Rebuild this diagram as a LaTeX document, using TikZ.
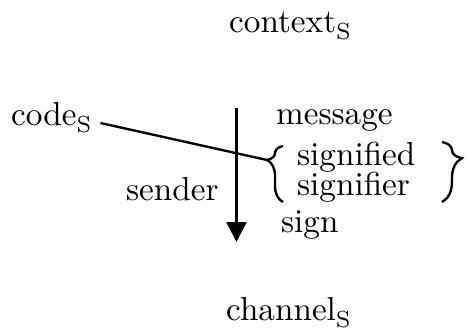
\documentclass[tikz,border=0pt]{standalone}
\usetikzlibrary{arrows.meta,decorations.pathreplacing}
\newcommand{\subS}{\raisebox{-2.4pt}{\fontsize{7}{8}\selectfont S}}
\begin{document}
\begin{tikzpicture}[x=0.3bp,y=0.3bp,line width=0.7pt,
  lbl/.style={inner sep=0pt,anchor=base west}]
  \useasboundingbox (0,0) rectangle (467,336);
  \node[lbl] (context) at (228,304) {context\subS};
  \node[lbl] (code) at (10,211) {code\subS};
  \node[lbl] (message) at (275,212) {message};
  \node[lbl] (signified) at (296,171) {signified};
  \node[lbl] (signifier) at (296,141) {signifier};
  \node[lbl] (sender) at (125,136) {sender};
  \node[lbl] (sign) at (280,104) {sign};
  \node[lbl] (channel) at (225,16) {channel\subS};
  \coordinate (top) at (236.5,228);
  \coordinate (bottom) at (236.5,94);
  \draw[-{Triangle[width=6pt,length=6pt]}] (top) -- (bottom);
  % braces round signified / signifier
  \draw[decorate,decoration={brace,amplitude=4.8pt,aspect=0.75}] (283,134) -- (283,190);
  \draw[decorate,decoration={brace,amplitude=6pt,aspect=0.27}] (442,194) -- (442,134);
  \coordinate (fork) at (267,176);
  \draw ([xshift=2.4pt,yshift=0.6pt]code.base east) -- (fork);
\end{tikzpicture}
\end{document}
